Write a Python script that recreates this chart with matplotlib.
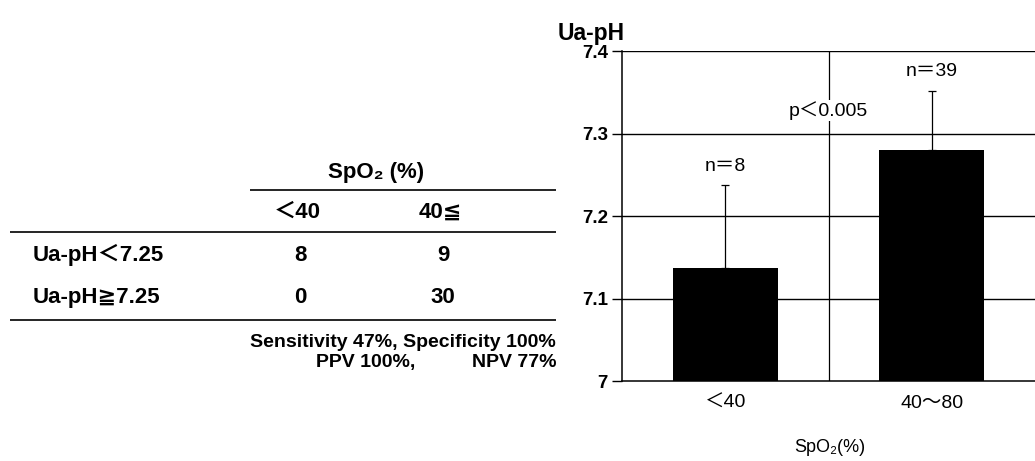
import matplotlib
matplotlib.use("Agg")
import matplotlib.pyplot as plt

plt.rcParams['font.family'] = ['Liberation Sans', 'DejaVu Sans', 'Noto Sans CJK JP']

# bar chart data
categories = ['＜40', '40～80']
means = [7.137, 7.280]
sd = [0.100, 0.072]
n_labels = ['n＝8', 'n＝39']
p_label = 'p＜0.005'

# 2x2 table data
col_header = 'SpO₂ (%)'
col_labels = ['＜40', '40≦']
row_labels = ['Ua-pH＜7.25', 'Ua-pH≧7.25']
counts = [[8, 9], [0, 30]]
stats_line1 = 'Sensitivity 47%, Specificity 100%'
stats_ppv = 'PPV 100%,'
stats_npv = 'NPV 77%'

W, H = 1035, 461
fig = plt.figure(figsize=(W / 100, H / 100), dpi=100)

# ---- table, laid out in pixel coordinates on a blank axes
tab = fig.add_axes([0, 0, 1, 1])
tab.set_xlim(0, W)
tab.set_ylim(H, 0)
tab.axis('off')

fs = 16
tab.text(376, 172, col_header, ha='center', va='center', fontsize=fs, fontweight='bold')
tab.hlines(190, 250, 556, color='black', lw=1.2)
col_x = [297, 440]
for cx, lab in zip(col_x, col_labels):
    tab.text(cx, 212, lab, ha='center', va='center', fontsize=fs, fontweight='bold')
tab.hlines(232, 10, 556, color='black', lw=1.2)
row_y = [255, 297]
for ry, lab, vals in zip(row_y, row_labels, counts):
    tab.text(33, ry, lab, ha='left', va='center', fontsize=fs, fontweight='bold')
    for cx, v in zip(col_x, vals):
        tab.text(cx + 3, ry, str(v), ha='center', va='center', fontsize=fs, fontweight='bold')
tab.hlines(320, 10, 556, color='black', lw=1.2)
tab.text(556, 342, stats_line1, ha='right', va='center', fontsize=14, fontweight='bold')
tab.text(316, 362, stats_ppv, ha='left', va='center', fontsize=14, fontweight='bold')
tab.text(556, 362, stats_npv, ha='right', va='center', fontsize=14, fontweight='bold')

# ---- bar chart
ax = fig.add_axes([622 / W, 1 - 381 / H, 1 - 622 / W, (381 - 51) / H])
x = [0.5, 1.5]
ax.bar(x, means, width=0.51, bottom=0, color='black', zorder=3,
       yerr=[[0, 0], sd], error_kw=dict(ecolor='black', elinewidth=0.9, capsize=3, capthick=0.9))
ax.set_xlim(0, 2)
ax.set_ylim(7, 7.4)
ax.set_yticks([7, 7.1, 7.2, 7.3, 7.4])
ax.set_yticklabels(['7', '7.1', '7.2', '7.3', '7.4'], fontsize=13.5, fontweight='bold')
ax.tick_params(axis='y', direction='out', length=7, width=1, pad=3)
ax.set_xticks(x)
ax.set_xticklabels(categories, fontsize=14)
ax.tick_params(axis='x', length=0, pad=10)
for yy in [7.1, 7.2, 7.3, 7.4]:
    ax.axhline(yy, color='black', lw=1, zorder=1)
ax.axvline(1, color='black', lw=0.9, zorder=1)
for s in ['top', 'right']:
    ax.spines[s].set_visible(False)
ax.spines['left'].set_linewidth(1.1)
ax.spines['bottom'].set_linewidth(1.1)

for xi, m, e, lab in zip(x, means, sd, n_labels):
    ax.text(xi, m + e + 0.013, lab, ha='center', va='bottom', fontsize=14)
ax.text(1, 7.328, p_label, ha='center', va='center', fontsize=14, zorder=4,
        bbox=dict(facecolor='white', edgecolor='none', pad=1))

fig.text(558 / W, 1 - 40 / H, 'Ua-pH', ha='left', va='baseline', fontsize=16.5, fontweight='bold')
fig.text(830 / W, 1 - 447 / H, 'SpO₂(%)', ha='center', va='center', fontsize=13)

fig.savefig('out.png', dpi=100)
